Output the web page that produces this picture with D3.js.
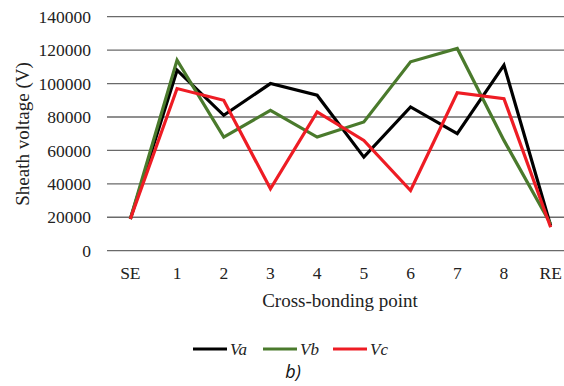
<!DOCTYPE html>
<html><head><meta charset="utf-8">
<script src="https://cdn.jsdelivr.net/npm/d3@7"></script>
<style>body{margin:0;background:#fff}</style>
</head><body>
<script>
const categories = ["SE","1","2","3","4","5","6","7","8","RE"];
const Va = [19000,108000,81000,100000,93000,56000,86000,70000,111000,15000];
const Vb = [19000,114000,68000,84000,68000,77000,113000,121000,66000,16000];
const Vc = [19000,97000,90000,37000,83000,66000,36000,94500,91000,14000];
const yTicks = [0,20000,40000,60000,80000,100000,120000,140000];
const seriesNames = ["Va","Vb","Vc"];
const colors = ["#000000","#4a7a2c","#ee1c24"];
const SERIF = "'Liberation Serif'";

const W=564,H=386;
const svg=d3.select("body").append("svg").attr("width",W).attr("height",H);
const x=d3.scaleBand().domain(categories).range([107,574]);
const y=d3.scaleLinear().domain([0,140000]).range([250.7,16.7]);

svg.append("g").selectAll("line").data(yTicks).join("line")
  .attr("x1",107).attr("x2",W).attr("y1",d=>y(d)).attr("y2",d=>y(d))
  .attr("stroke","#6a6a6a").attr("stroke-width",1.3);

svg.append("g").selectAll("text").data(yTicks).join("text")
  .style("font-family",SERIF).style("font-size","17.5px")
  .attr("x",91).attr("y",d=>y(d)).attr("dy","0.35em").attr("text-anchor","end")
  .attr("fill","#222")
  .text(d=>d);

svg.append("g").selectAll("text").data(categories).join("text")
  .style("font-family",SERIF).style("font-size","17.5px")
  .attr("x",d=>x(d)+x.bandwidth()/2).attr("y",273).attr("dy","0.35em").attr("text-anchor","middle")
  .attr("fill","#222")
  .text(d=>d);

svg.append("text").style("font-family",SERIF).style("font-size","19px")
  .attr("x",340).attr("y",300).attr("dy","0.35em").attr("text-anchor","middle")
  .attr("fill","#222")
  .text("Cross-bonding point");
svg.append("text").style("font-family",SERIF).style("font-size","19px")
  .attr("transform","translate(22,134) rotate(-90)").attr("dy","0.35em").attr("text-anchor","middle")
  .attr("fill","#222")
  .text("Sheath voltage (V)");

const line=d3.line().x((d,i)=>x(categories[i])+x.bandwidth()/2).y(d=>y(d));
[Va,Vb,Vc].forEach((s,k)=>{
  svg.append("path").datum(s).attr("d",line).attr("fill","none")
    .attr("stroke",colors[k]).attr("stroke-width",3.2).attr("stroke-linejoin","miter");
});

const lx=[193,263,333];
seriesNames.forEach((n,k)=>{
  svg.append("line").attr("x1",lx[k]).attr("x2",lx[k]+34).attr("y1",349).attr("y2",349)
    .attr("stroke",colors[k]).attr("stroke-width",3.2);
  svg.append("text").style("font-family",SERIF).style("font-size","17px").style("font-style","italic")
    .attr("x",lx[k]+37).attr("y",349).attr("dy","0.35em")
    .attr("fill","#222")
    .text(n);
});
svg.append("text").style("font-family","'Open Sans'").style("font-size","18px").style("font-style","italic")
  .attr("x",293).attr("y",372).attr("dy","0.35em").attr("text-anchor","middle")
  .attr("fill","#111")
  .text("b)");
</script>
</body></html>
